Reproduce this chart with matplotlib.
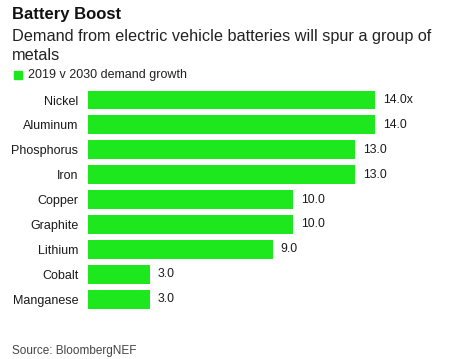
import matplotlib
matplotlib.use("Agg")
import matplotlib.pyplot as plt

metals = ["Nickel", "Aluminum", "Phosphorus", "Iron", "Copper",
          "Graphite", "Lithium", "Cobalt", "Manganese"]
growth = [14.0, 14.0, 13.0, 13.0, 10.0, 10.0, 9.0, 3.0, 3.0]
value_labels = ["14.0x", "14.0", "13.0", "13.0", "10.0", "10.0", "9.0", "3.0", "3.0"]

plt.rcParams["font.family"] = ["Liberation Sans", "DejaVu Sans"]
green = "#1de81d"

W, H = 450, 359
fig = plt.figure(figsize=(W / 100, H / 100), dpi=100)

# axes placed in pixel terms
left, right = 88, 88 + 17 * 20.5
top, bottom = 87.6, 311.5
ax = fig.add_axes([left / W, 1 - bottom / H, (right - left) / W, (bottom - top) / H])

y = list(range(len(metals)))
ax.barh(y, growth, height=0.76, color=green)
ax.set_xlim(0, 17)
ax.set_ylim(len(metals) - 0.5, -0.5)
ax.set_yticks(y)
ax.set_yticklabels(metals, fontsize=9, color="#1a1a1a")
ax.tick_params(axis="y", length=0, pad=7)
ax.set_xticks([])
for s in ax.spines.values():
    s.set_visible(False)

for yi, v, lab in zip(y, growth, value_labels):
    ax.text(v + 0.4, yi, lab, va="center", ha="left", fontsize=8.8, color="#1a1a1a")

fig.text(12 / W, 1 - 15 / H, "Battery Boost", fontsize=12, fontweight="bold",
         va="center", ha="left", color="#111111")
fig.text(12 / W, 1 - 37 / H, "Demand from electric vehicle batteries will spur a group of",
         fontsize=11.7, va="center", ha="left", color="#222222")
fig.text(12 / W, 1 - 55 / H, "metals",
         fontsize=11.7, va="center", ha="left", color="#222222")
fig.patches.append(plt.Rectangle((14 / W, 1 - 79 / H), 8 / W, 8 / H, color=green,
                                 transform=fig.transFigure, figure=fig))
fig.text(28 / W, 1 - 75 / H, "2019 v 2030 demand growth", fontsize=9,
         va="center", ha="left", color="#222222")
fig.text(12 / W, 1 - 351 / H, "Source: BloombergNEF", fontsize=8.5,
         va="center", ha="left", color="#444444")

fig.savefig("out.png", dpi=100)
